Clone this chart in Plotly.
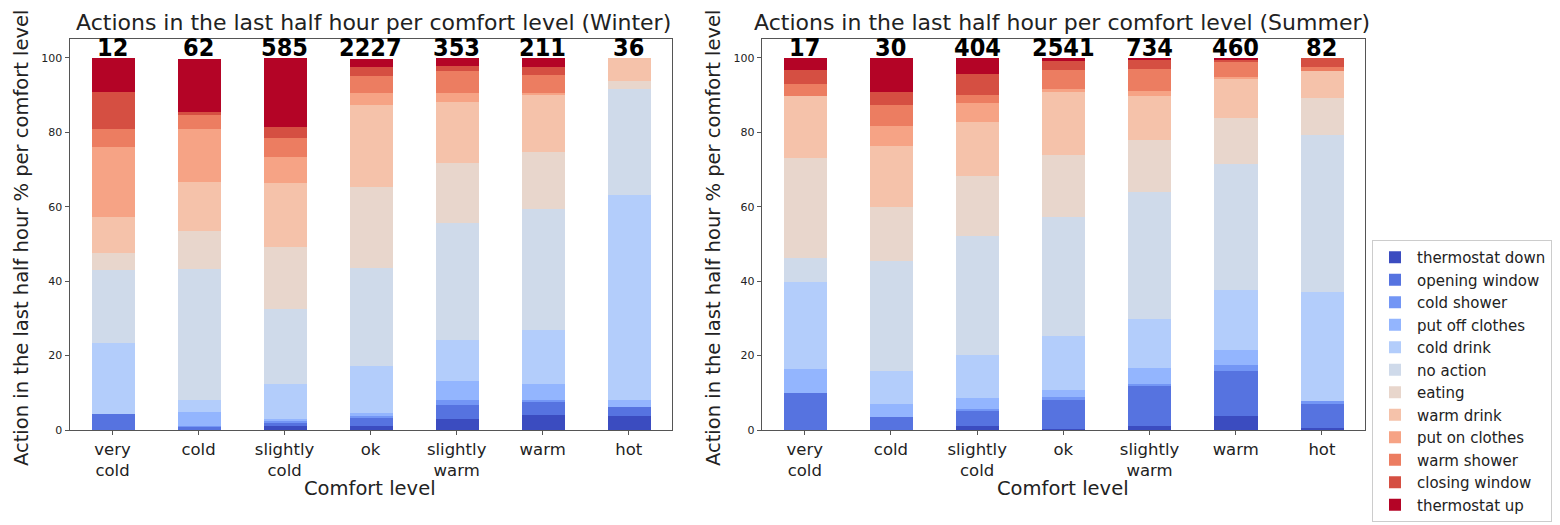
import plotly.graph_objects as go

# comfort levels (x axis) and the actions stacked in each bar
levels = ["very<br>cold", "cold", "slightly<br>cold", "ok", "slightly<br>warm", "warm", "hot"]
actions = ["thermostat down", "opening window", "cold shower", "put off clothes",
           "cold drink", "no action", "eating", "warm drink", "put on clothes",
           "warm shower", "closing window", "thermostat up"]
colors = ["#3b4cc0", "#5673e0", "#7396f5", "#93b5fe", "#b3cdfb", "#cfdaea",
          "#e8d6cc", "#f5c2aa", "#f6a385", "#ec7d61", "#d54f42", "#b40426"]

# number of answers per comfort level
winter_counts = [12, 62, 585, 2227, 353, 211, 36]
summer_counts = [17, 30, 404, 2541, 734, 460, 82]

# percentages, one list per action (winter)
w_thermostat_down = [0.0, 0.0, 1.1, 1.3, 3.0, 4.3, 3.9]
w_opening_window = [4.5, 1.0, 1.1, 2.2, 3.8, 3.5, 2.3]
w_cold_shower = [0.0, 0.3, 0.5, 0.3, 1.3, 0.5, 0.0]
w_put_off_clothes = [0.0, 3.6, 0.5, 1.0, 5.2, 4.3, 1.9]
w_cold_drink = [19.1, 3.2, 9.4, 12.6, 10.9, 14.3, 55.1]
w_no_action = [19.4, 35.2, 20.0, 26.2, 31.6, 32.5, 28.7]
w_eating = [4.6, 10.3, 16.8, 21.8, 16.1, 15.5, 1.9]
w_warm_drink = [9.7, 13.2, 17.0, 22.2, 16.5, 15.3, 6.2]
w_put_on_clothes = [19.0, 14.2, 7.2, 3.0, 2.3, 0.5, 0.0]
w_warm_shower = [4.8, 3.8, 5.1, 4.7, 6.0, 4.8, 0.0]
w_closing_window = [9.8, 0.9, 2.9, 2.3, 1.3, 2.3, 0.0]
w_thermostat_up = [9.3, 14.2, 18.4, 2.2, 2.0, 2.2, 0.0]

# percentages, one list per action (summer)
s_thermostat_down = [0.0, 0.0, 1.3, 0.4, 1.3, 3.9, 0.7]
s_opening_window = [10.0, 3.6, 3.9, 7.7, 10.6, 12.0, 6.5]
s_cold_shower = [0.0, 0.0, 0.6, 0.9, 0.6, 1.6, 0.6]
s_put_off_clothes = [6.5, 3.6, 2.9, 2.0, 4.3, 4.2, 0.0]
s_cold_drink = [23.5, 8.9, 11.6, 14.5, 13.2, 16.1, 29.4]
s_no_action = [6.4, 29.4, 32.0, 32.0, 34.2, 33.8, 42.2]
s_eating = [26.9, 14.5, 16.1, 16.6, 13.9, 12.3, 9.9]
s_warm_drink = [16.7, 16.5, 14.5, 16.9, 11.9, 10.8, 7.2]
s_put_on_clothes = [0.0, 5.4, 5.2, 0.9, 1.3, 0.4, 0.0]
s_warm_shower = [3.2, 5.6, 2.0, 5.1, 5.8, 3.9, 1.3]
s_closing_window = [3.6, 3.5, 5.8, 2.4, 2.7, 0.7, 2.2]
s_thermostat_up = [3.2, 9.0, 4.1, 0.6, 0.2, 0.2, 0.0]

winter = [w_thermostat_down, w_opening_window, w_cold_shower, w_put_off_clothes,
          w_cold_drink, w_no_action, w_eating, w_warm_drink, w_put_on_clothes,
          w_warm_shower, w_closing_window, w_thermostat_up]
summer = [s_thermostat_down, s_opening_window, s_cold_shower, s_put_off_clothes,
          s_cold_drink, s_no_action, s_eating, s_warm_drink, s_put_on_clothes,
          s_warm_shower, s_closing_window, s_thermostat_up]

FONT = "DejaVu Sans, sans-serif"
# the page body has an 8px margin, so the figure starts at (8, 8) in the window
OFF = 8
W, H = 1560 - OFF, 525 - OFF

fig = go.Figure()
xs = list(range(len(levels)))

for i, name in enumerate(actions):
    fig.add_trace(go.Bar(x=xs, y=winter[i], name=name, marker_color=colors[i],
                         marker_line_width=0, width=0.5, legendgroup=name,
                         xaxis="x", yaxis="y"))
for i, name in enumerate(actions):
    fig.add_trace(go.Bar(x=xs, y=summer[i], name=name, marker_color=colors[i],
                         marker_line_width=0, width=0.5, legendgroup=name,
                         showlegend=False, xaxis="x2", yaxis="y2"))

# counts above the bars
for xref, yref, counts in [("x", "y", winter_counts), ("x2", "y2", summer_counts)]:
    for x, c in zip(xs, counts):
        fig.add_annotation(x=x, y=100, xref=xref, yref=yref, text=str(c),
                           showarrow=False, yanchor="bottom", yshift=-6,
                           font=dict(family="DejaVu Sans Condensed, Liberation Sans Narrow",
                                     size=25, color="black", weight="bold"))

def px(x):
    return (x - OFF) / W

def py(y):
    return 1 - (y - OFF) / H

axis_common = dict(showline=True, linecolor="#555", linewidth=1, mirror=True,
                   ticks="outside", tickcolor="#555", ticklen=4, showgrid=False,
                   zeroline=False, automargin=False)

fig.update_layout(
    width=W, height=H,
    margin=dict(l=0, r=0, t=0, b=0, autoexpand=False),
    plot_bgcolor="white", paper_bgcolor="white",
    barmode="stack", bargap=0,
    font=dict(family=FONT, color="#222"),
    xaxis=dict(domain=[px(69.5), px(671.7)], range=[-0.5, 6.5], tickvals=xs,
               ticktext=levels, tickfont=dict(size=16.5), **axis_common),
    yaxis=dict(domain=[py(430), py(38.5)], range=[0, 105.2], tickvals=[0, 20, 40, 60, 80, 100],
               tickfont=dict(size=11), **axis_common),
    xaxis2=dict(domain=[px(761.7), px(1365)], range=[-0.5, 6.5], tickvals=xs,
                ticktext=levels, tickfont=dict(size=16.5), anchor="y2", **axis_common),
    yaxis2=dict(domain=[py(430), py(38.5)], range=[0, 105.2], tickvals=[0, 20, 40, 60, 80, 100],
                tickfont=dict(size=11), anchor="x2", **axis_common),
    legend=dict(x=px(1372), y=py(240), xanchor="left", yanchor="top",
                traceorder="normal", bordercolor="#ccc", borderwidth=1,
                bgcolor="white", font=dict(family="DejaVu Sans", size=15, color="#222"),
                tracegroupgap=4, itemwidth=34),
)

# titles and axis labels
texts = [
    ("Actions in the last half hour per comfort level (Winter)", 373, 22, 22, 0),
    ("Actions in the last half hour per comfort level (Summer)", 1062, 22, 22, 0),
    ("Comfort level", 370, 488, 19.5, 0),
    ("Comfort level", 1063, 488, 19.5, 0),
    ("Action in the last half hour % per comfort level", 22, 238, 19.5, -90),
    ("Action in the last half hour % per comfort level", 714, 238, 19.5, -90),
]
for t, x, y, size, ang in texts:
    fig.add_annotation(x=px(x), y=py(y), xref="paper", yref="paper", text=t,
                       showarrow=False, textangle=ang, xanchor="center", yanchor="middle",
                       font=dict(family=FONT, size=size, color="#222"))

fig.write_html("out.html")
